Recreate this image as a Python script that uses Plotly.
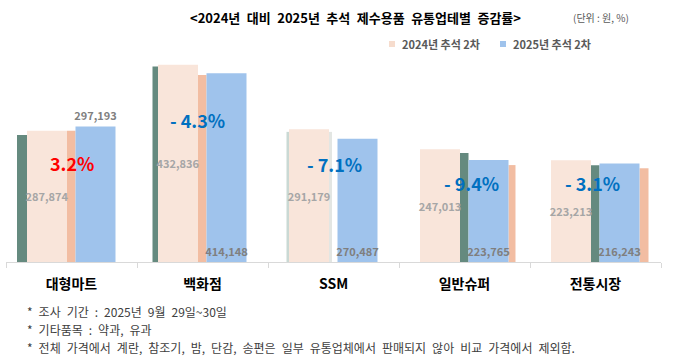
import plotly.graph_objects as go

# ---------------- data ----------------
categories = ["대형마트", "백화점", "SSM", "일반슈퍼", "전통시장"]
series_names = ["2024년 추석 2차", "2025년 추석 2차"]
values_2024 = [287874, 432836, 291179, 247013, 223213]
values_2025 = [297193, 414148, 270487, 223765, 216243]
title_text = "<2024년 대비 2025년 추석 제수용품 유통업테별 증감률>"
unit_text = "(단위 : 원, %)"
notes = [
    "* 조사 기간 : 2025년 9월 29일~30일",
    "* 기타품목 : 약과, 유과",
    "* 전체 가격에서 계란, 참조기, 밤, 단감, 송편은 일부 유통업체에서 판매되지 않아 비교 가격에서 제외함.",
]

# ---------------- layout constants ----------------
W, H = 680, 362
ML, MR, MT, MB = 6, 19, 34, 100
PW = W - ML - MR
PH = H - MT - MB
CAT_PX = PW / len(categories)
FONT = "Noto Sans CJK KR"
C24 = "#f9e5da"
C25 = "#9fc3ec"
GREEN = "rgba(88,128,116,0.92)"
ORANGE = "rgba(240,178,146,0.85)"


def esc(s, wide=False):
    s = s.replace("&", "&amp;").replace("<", "&lt;").replace(">", "&gt;")
    if wide:
        s = s.replace(" ", "\u2002")
    return s


def px(x):
    return (x - ML) / PW


def py(y):
    return (H - MB - y) / PH


def u(dpx):
    return dpx / CAT_PX


bw = u(40)
fig = go.Figure()
fig.add_bar(
    x=categories, y=values_2024, name=series_names[0], width=bw, offset=-u(44.5),
    marker=dict(color=C24, line=dict(width=0)),
    text=[f"{v:,}" for v in values_2024], textposition="inside",
    insidetextanchor="middle", textangle=0, constraintext="none",
    textfont=dict(family=FONT, size=11, color="#a6a6a6", weight="bold"),
    showlegend=False, hoverinfo="skip",
)
fig.add_bar(
    x=categories, y=values_2025, name=series_names[1], width=bw, offset=u(4),
    marker=dict(color=C25, line=dict(width=0)),
    text=[f"{v:,}" for v in values_2025],
    textposition=["outside"] + ["inside"] * (len(categories) - 1),
    insidetextanchor="start", textangle=0, constraintext="none", cliponaxis=False,
    textfont=dict(family=FONT, size=11, color="#7f7f7f", weight="bold"),
    outsidetextfont=dict(family=FONT, size=11, color="#7f7f7f", weight="bold"),
    showlegend=False, hoverinfo="skip",
)

# soft shadow strips beside the bars (category index, px offsets, series, height ratio, colour)
shadows = [
    (0, -54.5, -44.5, 0, 0.967, GREEN),
    (0, -4.5, 4.0, 0, 1.0, ORANGE),
    (1, -50.0, -44.5, 0, 0.99, GREEN),
    (1, -4.5, 4.0, 1, 0.99, ORANGE),
    (2, -47.0, -44.5, 0, 0.98, "rgba(150,180,170,0.5)"),
    (2, -4.5, -1.5, 0, 0.98, "rgba(200,205,200,0.5)"),
    (3, -4.5, 4.0, 0, 0.968, GREEN),
    (3, 44.0, 51.0, 1, 0.95, ORANGE),
    (4, -4.5, 4.0, 0, 0.95, GREEN),
    (4, 44.0, 53.0, 1, 0.95, ORANGE),
]
series_vals = [values_2024, values_2025]
shapes = []
for ci, a, b, si, r, col in shadows:
    shapes.append(dict(type="rect", xref="x", yref="y", layer="below",
                       x0=ci + u(a), x1=ci + u(b), y0=0,
                       y1=series_vals[si][ci] * r,
                       fillcolor=col, line=dict(width=0)))

# legend squares
legend_items = [(389, "#f6dccd", series_names[0], 400),
                (500, "#9fc3ec", series_names[1], 511)]
annotations = []
for sx, col, name, tx in legend_items:
    shapes.append(dict(type="rect", xref="paper", yref="paper",
                       x0=px(sx), x1=px(sx + 6), y0=py(47), y1=py(41),
                       fillcolor=col, line=dict(width=0)))
    annotations.append(dict(xref="paper", yref="paper", x=px(tx), y=py(44),
                            xanchor="left", yanchor="middle", showarrow=False,
                            text=esc(name),
                            font=dict(family=FONT, size=11, color="#595959", weight="bold")))

# title and unit
annotations.append(dict(xref="paper", yref="paper", x=px(355), y=py(17),
                        xanchor="center", yanchor="middle", showarrow=False,
                        text=esc(title_text, wide=True),
                        font=dict(family=FONT, size=13, color="#000000", weight="bold")))
annotations.append(dict(xref="paper", yref="paper", x=px(571), y=py(17),
                        xanchor="left", yanchor="middle", showarrow=False,
                        text=esc(unit_text),
                        font=dict(family=FONT, size=10, color="#595959")))

# change-rate labels
rate_pos = [(0.5, 163), (-5.5, 120), (0.5, 164), (6.5, 183), (-3.5, 183)]
for i, (a, b) in enumerate(zip(values_2024, values_2025)):
    pct = (b / a - 1) * 100
    txt = f"{pct:.1f}%" if pct >= 0 else f"- {abs(pct):.1f}%"
    col = "#ff0000" if pct >= 0 else "#0070c0"
    dx, ypix = rate_pos[i]
    annotations.append(dict(xref="x", yref="paper", x=i, xshift=dx, y=py(ypix),
                            xanchor="center", yanchor="middle", showarrow=False,
                            text=txt,
                            font=dict(family=FONT, size=18, color=col, weight="bold")))

# footnotes
for k, (t, ypix) in enumerate(zip(notes, [311, 329, 347])):
    annotations.append(dict(xref="paper", yref="paper", x=px(25), y=py(ypix),
                            xanchor="left", yanchor="middle", showarrow=False,
                            text=esc(t, wide=True),
                            font=dict(family=FONT, size=12, color="#404040")))

fig.update_layout(
    width=W, height=H,
    margin=dict(l=ML, r=MR, t=MT, b=MB, pad=0),
    paper_bgcolor="white", plot_bgcolor="white",
    barmode="overlay",
    showlegend=False,
    shapes=shapes,
    annotations=annotations,
    xaxis=dict(type="category", range=[-0.5, len(categories) - 0.5],
               showline=True, linecolor="#d9d9d9", linewidth=1,
               ticks="outside", tickson="boundaries", ticklen=5, tickcolor="#d9d9d9",
               showgrid=False, zeroline=False, ticklabelstandoff=9,
               tickfont=dict(family=FONT, size=14, color="#000000", weight="bold")),
    yaxis=dict(range=[0, 500000], visible=False, showgrid=False, zeroline=False),
)

fig.write_html(
    "out.html",
    config={"displayModeBar": False},
    post_script="document.body.style.margin='0';document.body.style.overflow='hidden';",
)
